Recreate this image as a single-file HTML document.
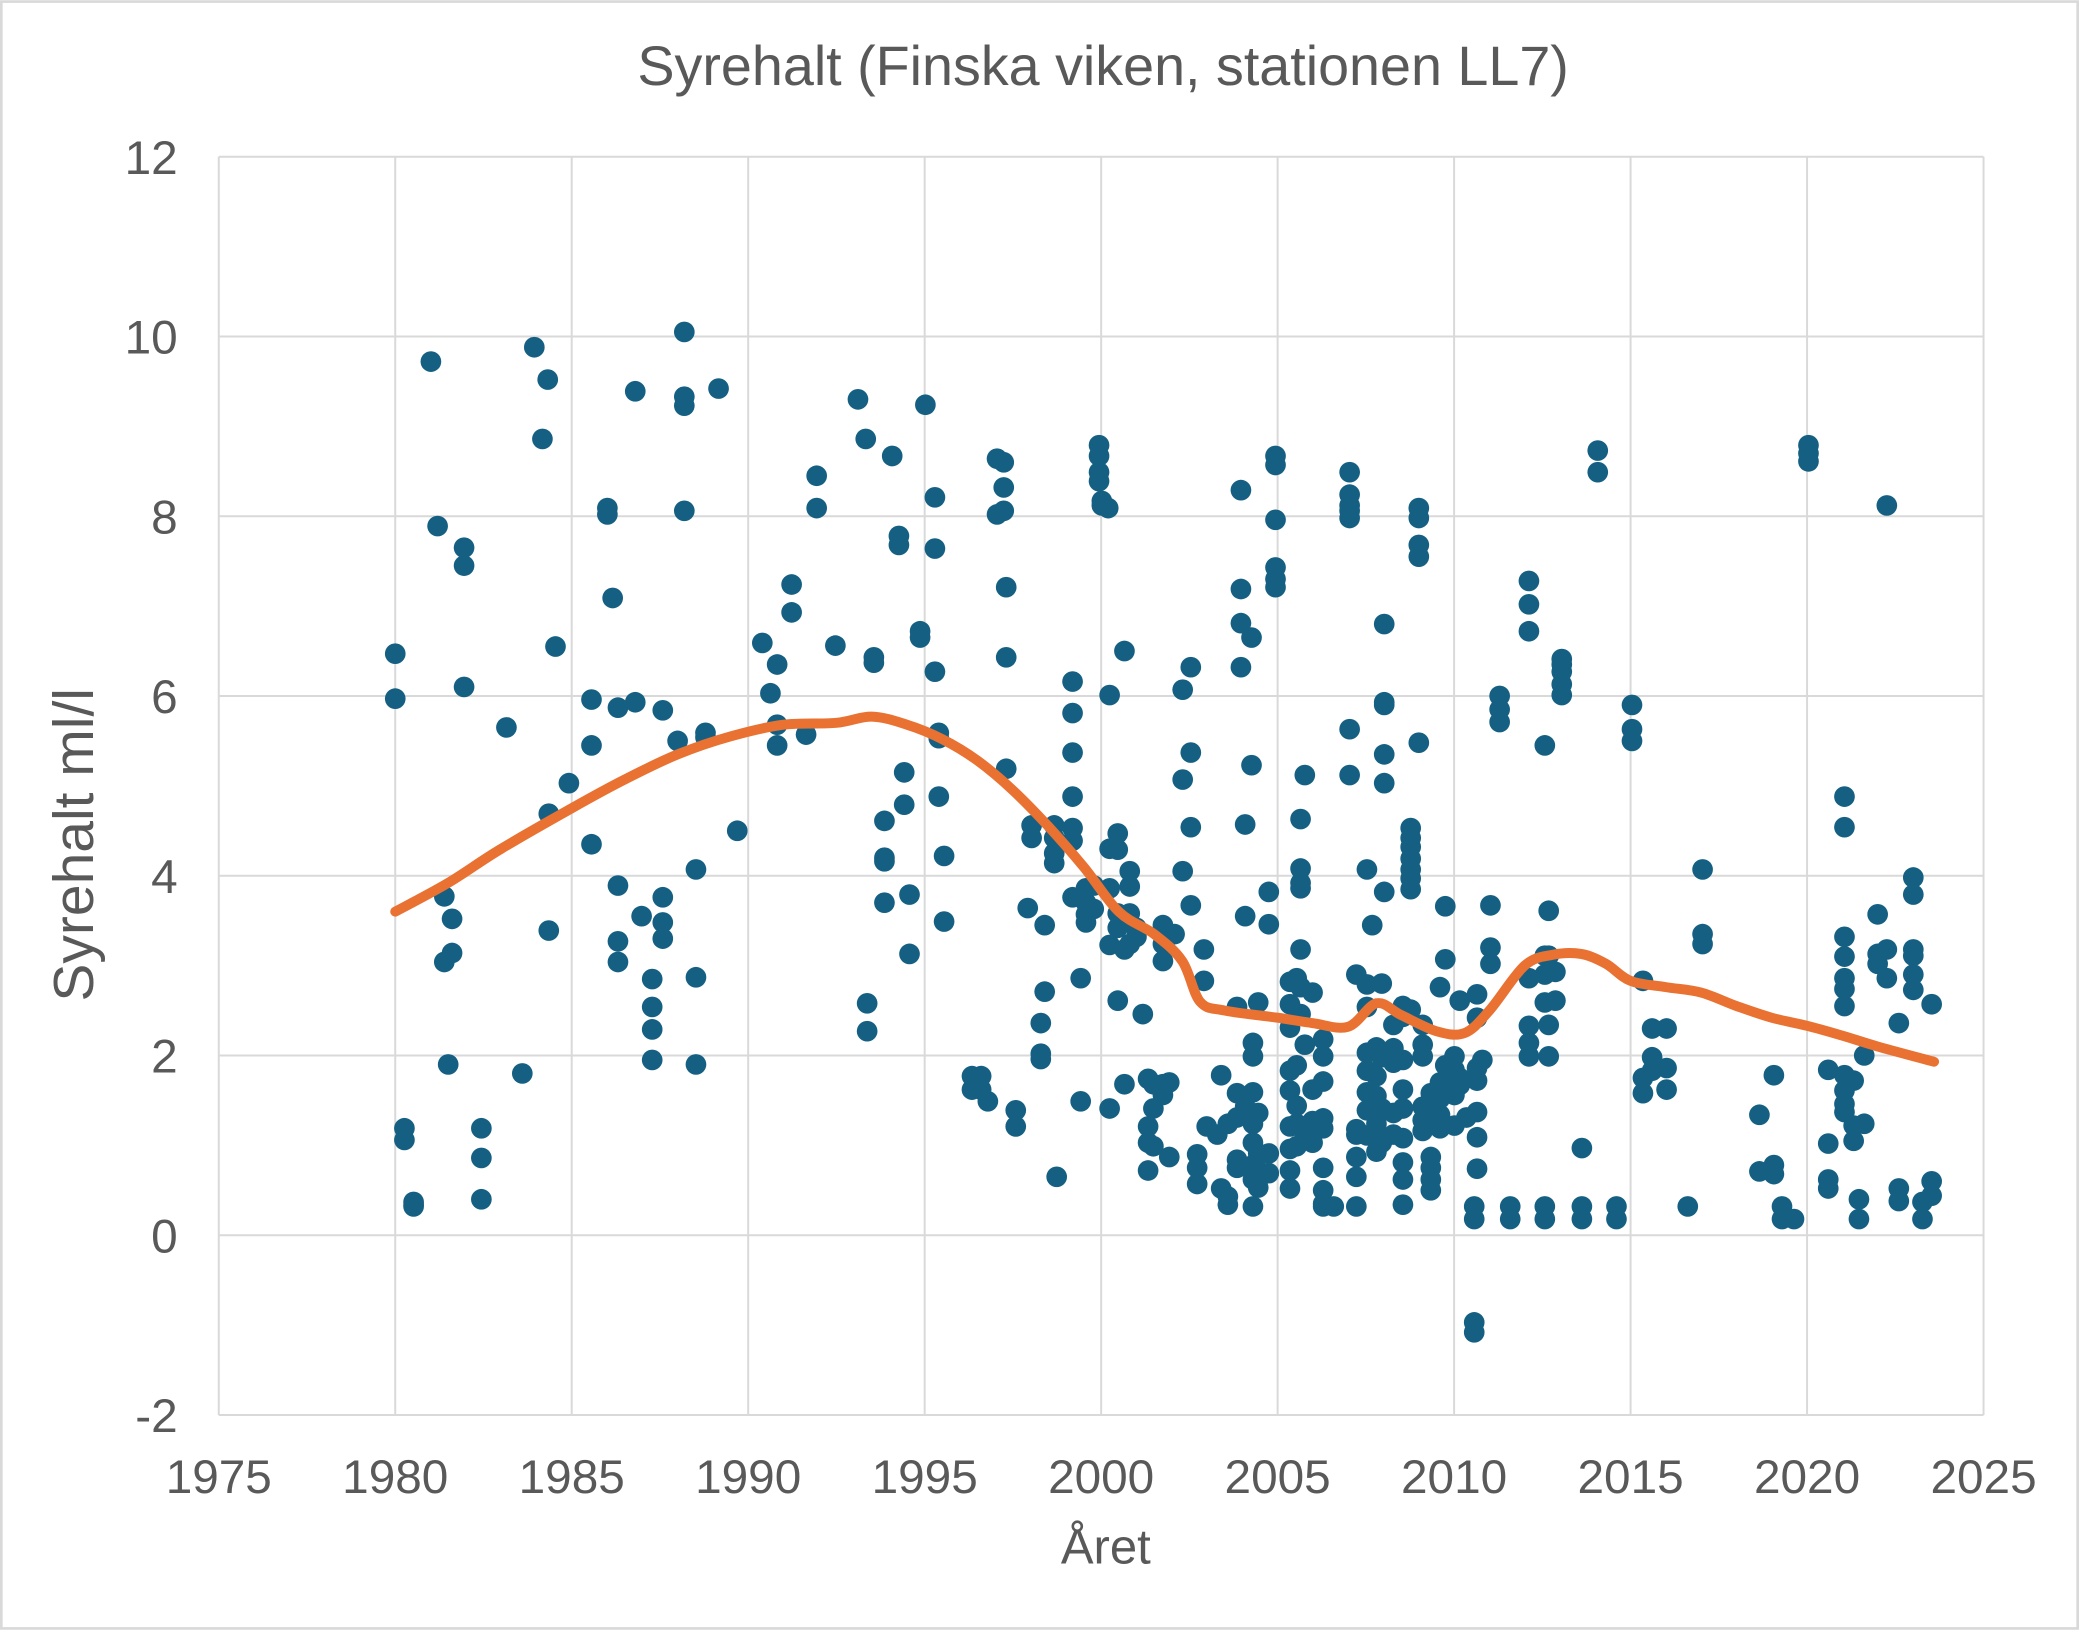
<!DOCTYPE html>
<html><head><meta charset="utf-8"><style>
html,body{margin:0;padding:0;background:#fff}
svg{display:block}
text{font-family:"Liberation Sans",Arial,sans-serif;fill:#595959}
</style></head><body>
<svg id="chart" width="2079" height="1630" viewBox="0 0 1568 1229" xmlns="http://www.w3.org/2000/svg">
<rect x="1" y="1" width="1566" height="1227" fill="#fff" stroke="#d9d9d9" stroke-width="2"/>
<text x="832" y="64" font-size="42" text-anchor="middle">Syrehalt (Finska viken, stationen LL7)</text>
<g id="grid"></g>
<g id="ticks"></g>
<text transform="translate(70,637) rotate(-90)" font-size="43" text-anchor="middle">Syrehalt ml/l</text>
<text x="834" y="1179" font-size="37" text-anchor="middle">Året</text>
<g id="points"></g>
<g id="trend"></g>
</svg>
<script>
const xTicks = [1975,1980,1985,1990,1995,2000,2005,2010,2015,2020,2025];
const yTicks = [-2,0,2,4,6,8,10,12];
const obsYears = [1980.0,1980.26,1980.52,1981.01,1981.2,1981.39,1981.61,1981.5,1981.95,1982.44,1983.15,1983.6,1983.94,1984.17,1984.32,1984.35,1984.54,1984.92,1985.56,1986.01,1986.16,1986.31,1986.8,1986.98,1987.28,1987.58,1988.0,1988.19,1988.52,1988.79,1989.16,1989.69,1990.4,1990.63,1990.82,1991.23,1991.64,1991.94,1992.47,1993.11,1993.33,1993.56,1993.37,1993.86,1994.08,1994.27,1994.42,1994.57,1994.87,1995.02,1995.29,1995.4,1995.55,1996.34,1996.6,1996.79,1997.05,1997.24,1997.31,1997.58,1997.92,1998.03,1998.29,1998.4,1998.67,1998.74,1999.19,1999.42,1999.57,1999.79,1999.94,2000.02,2000.2,2000.24,2000.47,2000.66,2000.81,2001.0,2001.18,2001.33,2001.48,2001.75,2001.93,2002.08,2002.31,2002.54,2002.72,2002.91,2002.99,2003.29,2003.4,2003.59,2003.85,2003.96,2004.08,2004.26,2004.3,2004.45,2004.75,2004.94,2005.35,2005.54,2005.65,2005.77,2005.99,2006.29,2006.59,2007.04,2007.23,2007.53,2007.68,2007.8,2007.95,2008.02,2008.28,2008.55,2008.77,2009.0,2009.11,2009.34,2009.6,2009.75,2010.01,2010.16,2010.35,2010.57,2010.65,2010.8,2011.03,2011.29,2011.59,2012.12,2012.57,2012.68,2012.87,2013.05,2013.62,2014.07,2014.6,2015.04,2015.35,2015.61,2016.02,2016.62,2017.04,2018.65,2019.06,2019.29,2019.63,2020.04,2020.6,2021.06,2021.32,2021.47,2021.62,2022.0,2022.26,2022.6,2023.01,2023.27,2023.53];
const obsValues = [[6.47,5.97],[1.19,1.06],[0.37,0.32,0.34],[9.72],[7.89],[3.77,3.04],[3.52,3.14],[1.9],[7.65,7.45,6.1],[1.19,0.86,0.4],[5.65],[1.8],[9.88],[8.86],[9.52],[4.69,3.39],[6.55],[5.03],[5.96,5.45,4.35],[8.09,8.02],[7.09],[5.87,3.89,3.27,3.04],[9.39,5.93],[3.55],[2.85,2.54,2.29,1.95],[5.84,3.76,3.48,3.3],[5.5],[10.05,9.33,9.23,8.06],[4.07,2.87,1.9],[5.59,5.54],[9.42],[4.5],[6.59],[6.03],[6.35,5.68,5.45],[7.24,6.93],[5.57],[8.45,8.09],[6.56],[9.3],[8.86],[6.43,6.37],[2.58,2.27],[4.61,4.2,4.16,3.7],[8.67],[7.78,7.68],[5.15,4.79],[3.79,3.13],[6.72,6.65],[9.24],[8.21,7.64,6.27],[5.59,5.53,4.88],[4.22,3.49],[1.77,1.62],[1.77,1.62],[1.49],[8.64,8.02],[8.6,8.32,8.06],[7.21,6.43,5.19],[1.39,1.21],[3.64],[4.56,4.42],[2.36,2.02,1.96],[2.71,3.45],[4.56,4.42,4.25,4.14],[0.65],[6.16,5.81,5.37,4.88,4.53,4.39,3.76],[2.86,1.49],[3.86,3.7,3.57,3.48],[3.89,3.63],[8.79,8.67,8.49,8.39],[8.17,8.12],[8.09],[6.01,4.3,3.86,3.23,1.41],[4.47,4.29,3.58,3.42,2.61],[6.5,3.18,1.68],[4.05,3.88,3.58,3.48,3.24],[3.42,3.32],[2.46],[1.74,1.21,1.03,0.72],[1.68,1.41,0.99],[3.45,3.24,3.05,1.68,1.56],[1.7,0.87],[3.35],[6.07,5.07,4.05],[6.32,5.37,4.54,3.67],[0.9,0.75,0.57],[3.18,2.83],[1.21],[1.12],[1.78,0.52],[0.43,0.34,1.24],[2.54,1.58,1.31,0.84,0.75],[8.29,7.19,6.81,6.32],[4.57,3.55,1.43],[6.65,5.23],[2.14,1.99,1.59,1.24,1.03,0.78,0.62,0.32],[2.59,1.36,0.91,0.72,0.53],[3.82,3.46,0.91,0.69],[8.67,8.57,7.96,7.43,7.3,7.21],[2.31,2.57,2.82,1.83,1.61,1.21,0.96,0.72,0.52],[2.86,1.89,1.44,1.24,0.99],[4.63,4.08,3.92,3.86,3.18,2.76,2.46],[5.12,2.12,1.11],[2.7,1.62,1.27,1.03],[2.18,1.99,1.71,1.3,1.19,0.75,0.5,0.35,0.32],[0.32],[8.49,8.24,8.12,8.06,7.98,5.63,5.12],[2.9,1.18,1.12,0.87,0.65,0.32],[4.07,2.79,2.54,2.03,1.83,1.59,1.39,1.11],[3.45],[2.09,1.77,1.55,1.4,1.24,1.12,0.93],[2.8,1.98,1.41,1.03],[6.8,5.93,5.9,5.35,5.03,3.82],[2.34,2.08,1.92,1.36,1.12],[2.55,2.43,1.95,1.62,1.41,1.08,0.81,0.62,0.34],[4.53,4.42,4.32,4.19,4.07,3.97,3.85,2.51],[8.09,7.98,7.68,7.55,5.48],[2.34,2.12,1.99,1.43,1.28,1.16],[1.58,1.39,0.87,0.75,0.62,0.5],[2.76,1.7,1.52,1.34,1.19],[3.66,3.07,1.89,1.64],[1.99,1.84,1.56,1.22],[2.61,1.75,1.67],[1.31],[0.32,0.18,-0.97,-1.08],[2.68,2.42,1.86,1.72,1.37,1.09,0.74],[1.95],[3.67,3.2,3.02],[6.0,5.85,5.71],[0.32,0.18],[7.28,7.02,6.72,2.86,2.33,2.14,1.99],[5.45,3.11,2.9,2.59,0.32,0.18],[3.61,3.11,2.34,1.99],[2.93,2.61],[6.41,6.35,6.27,6.13,6.01],[0.97,0.32,0.18],[8.73,8.49],[0.32,0.18],[5.9,5.63,5.5],[2.83,1.75,1.58],[2.3,1.98,1.83],[2.3,1.86,1.62],[0.32],[4.07,3.35,3.24],[1.34,0.71],[1.78,0.78,0.68],[0.32,0.18],[0.18],[8.79,8.7,8.61],[1.84,1.02,0.62,0.52],[4.88,4.54,3.32,3.1,2.86,2.74,2.55,1.78,1.61,1.46,1.37],[1.72,1.22,1.05],[0.4,0.18],[2.0,1.24],[3.57,3.13,3.02],[8.12,3.18,2.86],[2.36,0.52,0.38],[3.98,3.79,3.18,3.11,2.9,2.73],[0.37,0.18],[2.57,0.6,0.44]];
const trendYears = [1980,1981.5,1983,1985,1986.5,1988,1989.5,1991,1992.5,1993.5,1994.5,1995.5,1996.5,1997.5,1998.5,1999.5,2000.5,2001.5,2002.3,2002.8,2003.5,2005,2006,2007,2007.8,2008.5,2009.5,2010.3,2011,2012,2012.8,2013.6,2014.3,2015,2016,2017,2018,2019,2020,2021,2022,2023.6];
const trendValues = [3.6,3.92,4.3,4.75,5.07,5.35,5.55,5.68,5.7,5.77,5.68,5.52,5.28,4.95,4.55,4.1,3.6,3.35,3.05,2.6,2.5,2.42,2.36,2.32,2.58,2.45,2.27,2.25,2.5,3.0,3.12,3.13,3.02,2.83,2.76,2.7,2.55,2.42,2.33,2.22,2.1,1.93];

const NS = 'http://www.w3.org/2000/svg';
const X0 = 165, X1 = 1496, Y0 = 1067, Y1 = 118;
function xs(v){ return X0 + (v - 1975) / 50 * (X1 - X0); }
function ys(v){ return Y0 - (v + 2) / 14 * (Y0 - Y1); }
function mk(tag, attrs, parent){ const e = document.createElementNS(NS, tag); for (const k in attrs) e.setAttribute(k, attrs[k]); parent.appendChild(e); return e; }

const grid = document.getElementById('grid');
const ticks = document.getElementById('ticks');
xTicks.forEach(function(t){
  const l = mk('line', {x1: xs(t), x2: xs(t), y1: Y1, y2: Y0, stroke: '#d9d9d9', 'stroke-width': 1.5}, grid);
  
  
  const tx = mk('text', {x: xs(t), y: 1126, 'font-size': 36, 'text-anchor': 'middle'}, ticks);
  tx.textContent = t;
  
  
});
yTicks.forEach(function(t){
  const l = mk('line', {x1: X0, x2: X1, y1: ys(t), y2: ys(t), stroke: '#d9d9d9', 'stroke-width': 1.5}, grid);
  
  
  const tx = mk('text', {x: 134, y: ys(t) + 13, 'font-size': 36, 'text-anchor': 'end'}, ticks);
  tx.textContent = t;
  
  
});
const pts = document.getElementById('points');
obsYears.forEach(function(yr, i){
  obsValues[i].forEach(function(v){
    const c = mk('circle', {cx: xs(yr), cy: ys(v), r: 7.8, fill: '#156082'}, pts);
    
    
  });
});
const P = trendYears.map(function(yr, i){ return [xs(yr), ys(trendValues[i])]; });
let d = 'M' + P[0][0].toFixed(1) + ',' + P[0][1].toFixed(1);
for (let i = 0; i < P.length - 1; i++) {
  const p0 = P[Math.max(0, i - 1)], p1 = P[i], p2 = P[i + 1], p3 = P[Math.min(P.length - 1, i + 2)];
  const c1x = p1[0] + (p2[0] - p0[0]) / 6, c1y = p1[1] + (p2[1] - p0[1]) / 6;
  const c2x = p2[0] - (p3[0] - p1[0]) / 6, c2y = p2[1] - (p3[1] - p1[1]) / 6;
  d += ' C' + c1x.toFixed(1) + ',' + c1y.toFixed(1) + ' ' + c2x.toFixed(1) + ',' + c2y.toFixed(1) + ' ' + p2[0].toFixed(1) + ',' + p2[1].toFixed(1);
}
const tl = mk('path', {d: d, fill: 'none', stroke: '#e97132', 'stroke-width': 7.5, 'stroke-linejoin': 'round', 'stroke-linecap': 'round'}, document.getElementById('trend'));


</script>
</body></html>
